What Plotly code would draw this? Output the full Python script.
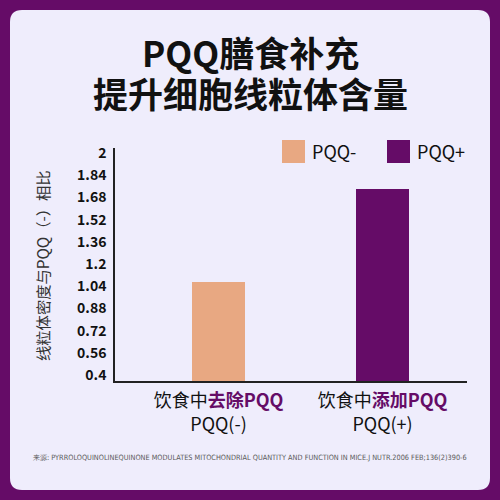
import plotly.graph_objects as go

# ---- data ----
categories = ["PQQ-", "PQQ+"]
values = [1.07, 1.74]
bar_colors = ["#E8A882", "#650C67"]
x_labels = [
    "饮食中<b><span style='color:#650C67'>去除PQQ</span></b><br>PQQ(-)",
    "饮食中<b><span style='color:#650C67'>添加PQQ</span></b><br>PQQ(+)",
]
y_ticks = [0.4, 0.56, 0.72, 0.88, 1.04, 1.2, 1.36, 1.52, 1.68, 1.84, 2]
title_lines = ["PQQ膳食补充", "提升细胞线粒体含量"]
y_title = "线粒体密度与PQQ（-）相比"
source_text = ("来源: PYRROLOQUINOLINEQUINONE MODULATES MITOCHONDRIAL QUANTITY "
               "AND FUNCTION IN MICE.J NUTR.2006 FEB;136(2)390-6")

PURPLE = "#650C67"
CARD = "#EFEDFC"
FONT = "Noto Sans CJK SC"

W, H = 500, 500
L, R, T, B = 115, 33, 148, 119
PW, PH = W - L - R, H - T - B


def px(x):
    return (x - L) / PW


def py(y):
    return (H - B - y) / PH


def rounded_rect(x0, y0, x1, y1, r):
    pts = [
        f"M {px(x0 + r)},{py(y0)}",
        f"L {px(x1 - r)},{py(y0)}",
        f"Q {px(x1)},{py(y0)} {px(x1)},{py(y0 + r)}",
        f"L {px(x1)},{py(y1 - r)}",
        f"Q {px(x1)},{py(y1)} {px(x1 - r)},{py(y1)}",
        f"L {px(x0 + r)},{py(y1)}",
        f"Q {px(x0)},{py(y1)} {px(x0)},{py(y1 - r)}",
        f"L {px(x0)},{py(y0 + r)}",
        f"Q {px(x0)},{py(y0)} {px(x0 + r)},{py(y0)}",
        "Z",
    ]
    return " ".join(pts)


fig = go.Figure()
fig.add_trace(go.Bar(
    x=[0, 1], y=values, width=0.32,
    marker=dict(color=bar_colors, line=dict(width=0)),
    showlegend=False, hoverinfo="skip",
))

shapes = [dict(type="path", xref="paper", yref="paper", layer="below",
               path=rounded_rect(10, 10, 490, 490, 12),
               fillcolor=CARD, line=dict(width=0))]

annotations = [
    dict(text=title_lines[0], x=px(250), y=py(52), xref="paper", yref="paper",
         showarrow=False, font=dict(family=FONT, size=35, color="#111111", weight="bold"),
         xanchor="center", yanchor="middle"),
    dict(text=title_lines[1], x=px(250), y=py(92), xref="paper", yref="paper",
         showarrow=False, font=dict(family=FONT, size=35, color="#111111", weight="bold"),
         xanchor="center", yanchor="middle"),
    dict(text=y_title, x=px(42), y=py(266), xref="paper", yref="paper",
         textangle=-90, showarrow=False,
         font=dict(family=FONT, size=15.3, color="#333333"),
         xanchor="center", yanchor="middle"),
    dict(text=source_text, x=px(250), y=py(457), xref="paper", yref="paper",
         showarrow=False, font=dict(family="DejaVu Sans Condensed", size=7.3, color="#5a5a5a"),
         xanchor="center", yanchor="middle"),
]

# legend drawn manually
leg_x = [282, 387]
for i, name in enumerate(categories):
    shapes.append(dict(type="rect", xref="paper", yref="paper",
                       x0=px(leg_x[i]), x1=px(leg_x[i] + 23),
                       y0=py(163), y1=py(140),
                       fillcolor=bar_colors[i], line=dict(width=0)))
    annotations.append(dict(text=name, x=px(leg_x[i] + 28), y=py(151),
                            xref="paper", yref="paper", showarrow=False,
                            xanchor="left", yanchor="middle",
                            font=dict(family=FONT, size=18, color="#111111")))

fig.update_layout(
    width=W, height=H,
    margin=dict(l=L, r=R, t=T, b=B, pad=0),
    paper_bgcolor=PURPLE,
    plot_bgcolor="rgba(0,0,0,0)",
    shapes=shapes,
    annotations=annotations,
    bargap=0,
    xaxis=dict(
        range=[-0.631, 1.515], tickvals=[0, 1], ticktext=x_labels,
        showline=True, linecolor="#222222", linewidth=1.5,
        showgrid=False, zeroline=False, ticks="", fixedrange=True,
        tickfont=dict(family=FONT, size=18, color="#111111"),
        ticklabelstandoff=3,
    ),
    yaxis=dict(
        range=[0.357, 2.036], tickvals=y_ticks,
        showline=True, linecolor="#222222", linewidth=1.5,
        showgrid=False, zeroline=False, ticks="", fixedrange=True,
        tickfont=dict(family=FONT, size=14, color="#111111", weight="bold"),
        ticklabelstandoff=4,
    ),
)

fig.write_html("out.html", config={"displayModeBar": False},
               post_script="document.body.style.margin='0';")
